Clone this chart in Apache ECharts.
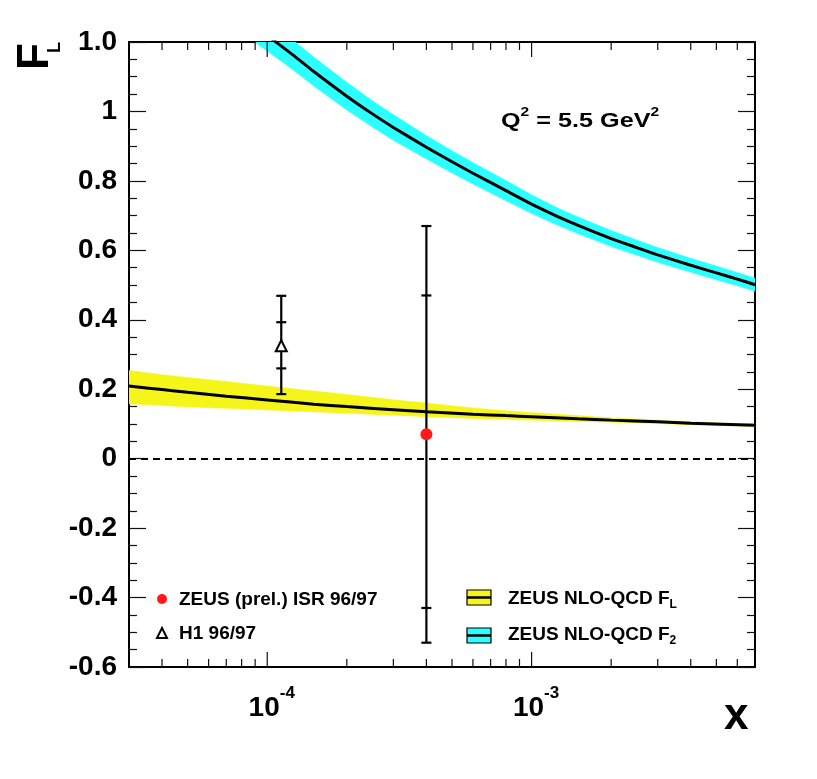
<!DOCTYPE html>
<html>
<head>
<meta charset="utf-8">
<title>F_L vs x</title>
<script src="https://cdn.jsdelivr.net/npm/echarts@6/dist/echarts.min.js"></script>
<style>
  html, body { margin: 0; padding: 0; background: #fff; }
  #chart { width: 817px; height: 779px; }
</style>
</head>
<body>
<div id="chart"></div>
<script>
// axis ranges
const xMin = 3e-5, xMax = 7e-3
const yMin = -0.6, yMax = 1.2

// ticks on the log x axis
const xMajorTicks = [1e-4, 1e-3]
const xMinorTicks = [4e-5, 5e-5, 6e-5, 7e-5, 8e-5, 9e-5,
  2e-4, 3e-4, 4e-4, 5e-4, 6e-4, 7e-4, 8e-4, 9e-4,
  2e-3, 3e-3, 4e-3, 5e-3, 6e-3]

// ZEUS NLO-QCD F2 (centre + band)
const f2X   = [9e-5, 1e-4, 1.25e-4, 1.5e-4, 2e-4, 2.5e-4, 3e-4, 4e-4, 5e-4, 6e-4, 8e-4,
               1e-3, 1.25e-3, 1.5e-3, 2e-3, 2.5e-3, 3e-3, 4e-3, 5e-3, 6e-3, 7e-3]
const f2Mid = [1.246, 1.219, 1.163, 1.115, 1.044, 0.993, 0.954, 0.897, 0.855, 0.822, 0.772,
               0.733, 0.698, 0.672, 0.634, 0.608, 0.587, 0.557, 0.535, 0.517, 0.501]
const f2Lo  = [1.199, 1.174, 1.120, 1.073, 1.004, 0.955, 0.917, 0.863, 0.823, 0.791, 0.743,
               0.706, 0.673, 0.648, 0.611, 0.586, 0.566, 0.537, 0.515, 0.498, 0.482]
const f2Hi  = [1.293, 1.264, 1.206, 1.157, 1.084, 1.031, 0.991, 0.931, 0.887, 0.853, 0.801,
               0.760, 0.723, 0.696, 0.657, 0.630, 0.608, 0.577, 0.555, 0.536, 0.520]

// ZEUS NLO-QCD FL (centre + band)
const flX   = [3e-5, 4e-5, 5e-5, 7e-5, 1e-4, 1.5e-4, 2e-4, 3e-4, 4e-4, 6e-4, 8e-4,
               1e-3, 1.5e-3, 2e-3, 3e-3, 4e-3, 7e-3]
const flMid = [0.209, 0.199, 0.191, 0.180, 0.169, 0.157, 0.150, 0.141, 0.135, 0.128, 0.124,
               0.121, 0.115, 0.111, 0.106, 0.102, 0.096]
const flLo  = [0.158, 0.153, 0.149, 0.145, 0.140, 0.135, 0.131, 0.125, 0.121, 0.116, 0.113,
               0.111, 0.107, 0.105, 0.101, 0.098, 0.093]
const flHi  = [0.254, 0.242, 0.234, 0.222, 0.209, 0.195, 0.185, 0.170, 0.160, 0.146, 0.138,
               0.133, 0.124, 0.118, 0.111, 0.106, 0.099]

// ZEUS (prel.) ISR 96/97
const zeusX = [4.0e-4]
const zeusY = [0.07]
const zeusStatLo = [-0.43], zeusStatHi = [0.47]
const zeusTotLo  = [-0.53], zeusTotHi  = [0.67]

// H1 96/97
const h1X = [1.13e-4]
const h1Y = [0.325]
const h1StatLo = [0.260], h1StatHi = [0.393]
const h1TotLo  = [0.186], h1TotHi  = [0.469]

const FONT = 'Liberation Sans, Arial, Helvetica, sans-serif'

function pairs(xs, ys) {
  return xs.map((x, i) => [x, ys[i]])
}

// [x, lo, hi]
function bandRows(xs, lo, hi) {
  return xs.map((x, i) => [x, lo[i], hi[i]])
}

// [x, totLo, statLo, statHi, totHi]
function errRows(xs, tl, sl, sh, th) {
  return xs.map((x, i) => [x, tl[i], sl[i], sh[i], th[i]])
}

// one filled polygon for the whole band, drawn on the first item
function bandRenderer(color) {
  return function (params, api) {
    if (params.dataIndexInside !== 0) return null
    const n = params.dataInsideLength
    const up = [], dn = []
    for (let i = 0; i < n; i++) {
      const x = api.value(0, i)
      up.push(api.coord([x, api.value(2, i)]))
      dn.push(api.coord([x, api.value(1, i)]))
    }
    return {
      type: 'polygon',
      shape: { points: up.concat(dn.reverse()) },
      style: { fill: color, stroke: color, lineWidth: 0.5 }
    }
  }
}

function renderErrorBar(params, api) {
  const x = api.value(0)
  const pTl = api.coord([x, api.value(1)])
  const pSl = api.coord([x, api.value(2)])
  const pSh = api.coord([x, api.value(3)])
  const pTh = api.coord([x, api.value(4)])
  const st = { stroke: '#000', lineWidth: 2.2 }
  const cap = (p, w) => ({ type: 'line', shape: { x1: p[0] - w, y1: p[1], x2: p[0] + w, y2: p[1] }, style: st })
  return {
    type: 'group',
    children: [
      { type: 'line', shape: { x1: pTl[0], y1: pTl[1], x2: pTh[0], y2: pTh[1] }, style: st },
      cap(pTl, 5), cap(pTh, 5), cap(pSl, 5), cap(pSh, 5)
    ]
  }
}

// [x, y(unused), tick length]
function renderXTick(params, api) {
  const x = api.value(0)
  const len = api.value(2)
  const b = api.coord([x, yMin])
  const t = api.coord([x, yMax])
  const st = { stroke: '#111', lineWidth: 1.2 }
  return {
    type: 'group',
    children: [
      { type: 'line', shape: { x1: b[0], y1: b[1], x2: b[0], y2: b[1] - len }, style: st },
      { type: 'line', shape: { x1: t[0], y1: t[1], x2: t[0], y2: t[1] + len }, style: st }
    ]
  }
}

const lineAxis = { show: true, onZero: false, lineStyle: { color: '#000', width: 2 } }

const xCommon = {
  type: 'log',
  logBase: 10,
  min: xMin,
  max: xMax,
  axisLine: lineAxis,
  splitLine: { show: false },
  axisTick: { show: false }
}

const yCommon = {
  type: 'value',
  min: yMin,
  max: yMax,
  interval: 0.2,
  axisLine: lineAxis,
  splitLine: { show: false },
  axisTick: { show: true, inside: true, length: 17, lineStyle: { color: '#111', width: 1.2 } },
  minorTick: { show: true, splitNumber: 4, length: 8, lineStyle: { color: '#111', width: 1.2 } }
}

const chart = echarts.init(document.getElementById('chart'))
chart.setOption({
  animation: false,
  grid: { left: 129, right: 62, top: 42, bottom: 112, containLabel: false, outerBoundsMode: 'none' },
  xAxis: [
    {
      ...xCommon,
      position: 'bottom',
      axisLabel: {
        show: true,
        margin: 18,
        showMinLabel: false,
        showMaxLabel: false,
        formatter: v => '{b|10}{s|' + Math.round(Math.log10(v)) + '}',
        rich: {
          b: { fontSize: 28, fontWeight: 'bold', fontFamily: FONT, color: '#000', padding: [0, 0, 0, 9] },
          s: { fontSize: 17, fontWeight: 'bold', fontFamily: FONT, color: '#000', padding: [0, 0, 30, 0] }
        }
      }
    },
    { ...xCommon, position: 'top', axisLabel: { show: false } }
  ],
  yAxis: [
    {
      ...yCommon,
      position: 'left',
      axisLabel: {
        show: true,
        margin: 12,
        fontSize: 28,
        fontWeight: 'bold',
        fontFamily: FONT,
        color: '#000',
        formatter: v => (Math.abs(v - 1.2) < 1e-6 ? '1.0' : String(+v.toFixed(1)))
      }
    },
    { ...yCommon, position: 'right', axisLabel: { show: false } }
  ],
  graphic: [
    // y-axis title F_L, rotated
    {
      type: 'text', x: 36, y: 70, rotation: Math.PI / 2,
      style: { text: 'F', fontSize: 44, fontWeight: 'bold', fontFamily: FONT, fill: '#000', align: 'left', verticalAlign: 'middle' }
    },
    {
      type: 'text', x: 55, y: 53, rotation: Math.PI / 2,
      style: { text: 'L', fontSize: 18, fontWeight: 'bold', fontFamily: FONT, fill: '#000', align: 'left', verticalAlign: 'middle' }
    },
    // x-axis title
    {
      type: 'text', x: 724, y: 717,
      style: { text: 'x', fontSize: 44, fontWeight: 'bold', fontFamily: FONT, fill: '#000', align: 'left', verticalAlign: 'middle' }
    },
    // Q2 label
    {
      type: 'text', x: 501, y: 121, scaleX: 1.2,
      style: {
        text: '{a|Q}{s|2}{a| = 5.5 GeV}{s|2}', align: 'left', verticalAlign: 'middle',
        rich: {
          a: { fontSize: 21, fontWeight: 'bold', fontFamily: FONT, fill: '#000' },
          s: { fontSize: 13, fontWeight: 'bold', fontFamily: FONT, fill: '#000', padding: [0, 0, 17, 0] }
        }
      }
    },
    // legend, left column
    { type: 'circle', shape: { cx: 162, cy: 599, r: 5 }, style: { fill: '#ff1a1a' } },
    {
      type: 'text', x: 179, y: 600,
      style: { text: 'ZEUS (prel.) ISR 96/97', fontSize: 19, fontWeight: 'bold', fontFamily: FONT, fill: '#000', verticalAlign: 'middle' }
    },
    {
      type: 'polygon', shape: { points: [[162, 628], [167, 638], [157, 638]] },
      style: { fill: '#fff', stroke: '#000', lineWidth: 2 }
    },
    {
      type: 'text', x: 179, y: 634,
      style: { text: 'H1 96/97', fontSize: 19, fontWeight: 'bold', fontFamily: FONT, fill: '#000', verticalAlign: 'middle' }
    },
    // legend, right column
    { type: 'rect', shape: { x: 467, y: 590, width: 24, height: 15 }, style: { fill: '#f5f51a', stroke: '#000', lineWidth: 1.2 } },
    { type: 'line', shape: { x1: 467, y1: 597.5, x2: 491, y2: 597.5 }, style: { stroke: '#000', lineWidth: 2.5 } },
    {
      type: 'text', x: 508, y: 599,
      style: {
        text: '{t|ZEUS NLO-QCD F}{s|L}', verticalAlign: 'middle',
        rich: {
          t: { fontSize: 19, fontWeight: 'bold', fontFamily: FONT, fill: '#000' },
          s: { fontSize: 12, fontWeight: 'bold', fontFamily: FONT, fill: '#000', padding: [12, 0, 0, 0] }
        }
      }
    },
    { type: 'rect', shape: { x: 467, y: 628, width: 24, height: 15 }, style: { fill: '#2cffff', stroke: '#000', lineWidth: 1.2 } },
    { type: 'line', shape: { x1: 467, y1: 635.5, x2: 491, y2: 635.5 }, style: { stroke: '#000', lineWidth: 2.5 } },
    {
      type: 'text', x: 508, y: 635,
      style: {
        text: '{t|ZEUS NLO-QCD F}{s|2}', verticalAlign: 'middle',
        rich: {
          t: { fontSize: 19, fontWeight: 'bold', fontFamily: FONT, fill: '#000' },
          s: { fontSize: 12, fontWeight: 'bold', fontFamily: FONT, fill: '#000', padding: [12, 0, 0, 0] }
        }
      }
    }
  ],
  series: [
    // uncertainty bands
    {
      type: 'custom', data: bandRows(f2X, f2Lo, f2Hi), renderItem: bandRenderer('#2cffff'),
      encode: { x: 0, y: [1, 2] }, clip: true, silent: true, z: 1
    },
    {
      type: 'custom', data: bandRows(flX, flLo, flHi), renderItem: bandRenderer('#f5f51a'),
      encode: { x: 0, y: [1, 2] }, clip: true, silent: true, z: 1
    },
    // centre curves
    {
      name: 'ZEUS NLO-QCD F2', type: 'line', data: pairs(f2X, f2Mid), symbol: 'none', smooth: 0.2,
      lineStyle: { color: '#000', width: 3 }, z: 2
    },
    {
      name: 'ZEUS NLO-QCD FL', type: 'line', data: pairs(flX, flMid), symbol: 'none', smooth: 0.2,
      lineStyle: { color: '#000', width: 3 }, z: 2,
      markLine: {
        silent: true, symbol: 'none', label: { show: false },
        lineStyle: { color: '#000', width: 2, type: [7, 5] },
        data: [{ yAxis: 0 }]
      }
    },
    // x ticks (bottom and top): major 15px, minor 8px
    {
      type: 'custom',
      data: xMajorTicks.map(v => [v, 0, 15]).concat(xMinorTicks.map(v => [v, 0, 8])),
      renderItem: renderXTick, encode: { x: 0, y: 1 }, silent: true, z: 3
    },
    // error bars
    {
      type: 'custom', data: errRows(zeusX, zeusTotLo, zeusStatLo, zeusStatHi, zeusTotHi),
      renderItem: renderErrorBar, encode: { x: 0, y: [1, 4] }, silent: true, z: 4
    },
    {
      type: 'custom', data: errRows(h1X, h1TotLo, h1StatLo, h1StatHi, h1TotHi),
      renderItem: renderErrorBar, encode: { x: 0, y: [1, 4] }, silent: true, z: 4
    },
    // data points
    {
      name: 'ZEUS (prel.) ISR 96/97', type: 'scatter', data: pairs(zeusX, zeusY),
      symbol: 'circle', symbolSize: 12, itemStyle: { color: '#ff1a1a', opacity: 1 }, z: 5
    },
    {
      name: 'H1 96/97', type: 'scatter', data: pairs(h1X, h1Y),
      symbol: 'triangle', symbolSize: 11,
      itemStyle: { color: '#fff', borderColor: '#000', borderWidth: 2, opacity: 1 }, z: 5
    }
  ]
})
</script>
</body>
</html>
